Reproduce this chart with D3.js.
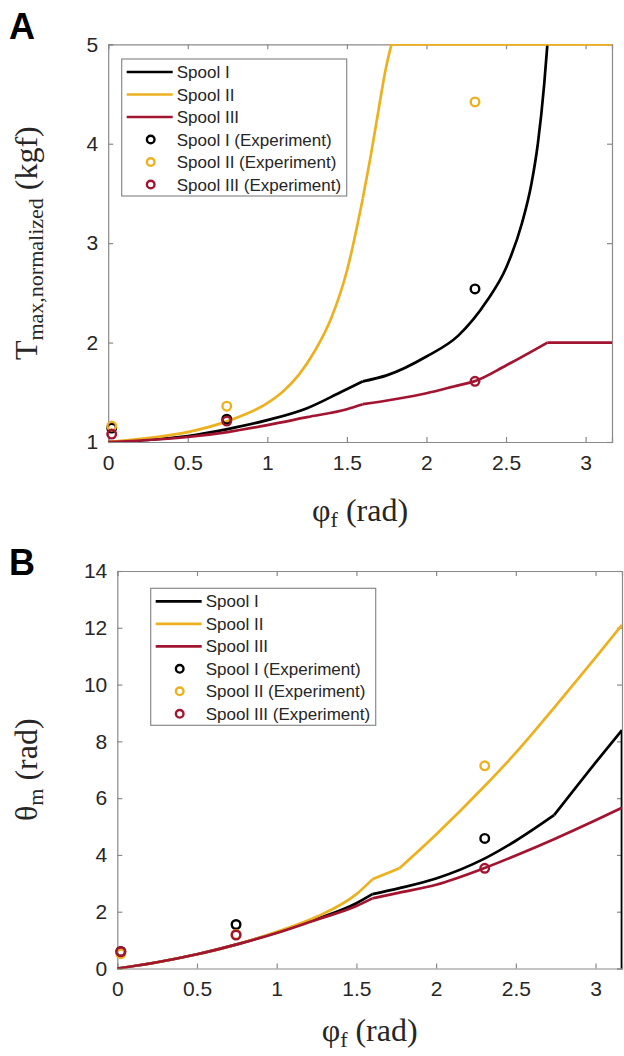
<!doctype html>
<html>
<head>
<meta charset="utf-8">
<script src="https://d3js.org/d3.v7.min.js"></script>
<style>
  body { margin: 0; background: #fff; }
  svg { display: block; }
</style>
</head>
<body>
<svg width="624" height="1056"></svg>
<script>
// ---- data ----
var seriesNames = ["Spool I", "Spool II", "Spool III"];
var seriesColors = ["#000000", "#EDB120", "#A2142F"];
var xTicks = [0, 0.5, 1, 1.5, 2, 2.5, 3];
var yTicksA = [1, 2, 3, 4, 5];
var yTicksB = [0, 2, 4, 6, 8, 10, 12, 14];

// panel A : T max, normalized (kgf)
var phiA1 = [0, 0.25, 0.5, 0.75, 1.0, 1.25, 1.46, 1.6, 1.75, 2.0, 2.2, 2.38, 2.5, 2.6, 2.66, 2.7, 2.74, 2.76];
var tA1   = [1, 1.02, 1.06, 1.13, 1.22, 1.34, 1.5, 1.61, 1.67, 1.86, 2.07, 2.42, 2.75, 3.2, 3.6, 4.0, 4.6, 5.0];
var kinkA1 = [1.6];
var phiA2 = [0, 0.25, 0.5, 0.75, 1.0, 1.1, 1.2, 1.3, 1.4, 1.5, 1.6, 1.65, 1.7, 1.74, 1.78, 3.166];
var tA2   = [1, 1.04, 1.1, 1.21, 1.39, 1.51, 1.68, 1.92, 2.24, 2.72, 3.45, 3.88, 4.35, 4.72, 5.0, 5.0];
var kinkA2 = [1.6, 1.78];
var phiA3 = [0, 0.25, 0.5, 0.75, 1.0, 1.25, 1.5, 1.6, 1.8, 2.0, 2.2, 2.3, 2.5, 2.76, 3.166];
var tA3   = [1, 1.02, 1.05, 1.1, 1.17, 1.25, 1.33, 1.38, 1.43, 1.49, 1.57, 1.61, 1.77, 2.0, 2.0];
var kinkA3 = [1.6, 2.76];

var phiExp = [0.022, 0.745, 2.305];
var tExpA1 = [1.14, 1.23, 2.54];
var tExpA2 = [1.16, 1.36, 4.42];
var tExpA3 = [1.08, 1.21, 1.61];

// panel B : theta m (rad)
var phiB1 = [0, 0.25, 0.5, 0.75, 1.0, 1.25, 1.5, 1.6, 1.77, 2.0, 2.3, 2.5, 2.74, 3.0, 3.166, 3.166];
var thB1  = [0, 0.22, 0.5, 0.85, 1.27, 1.74, 2.3, 2.62, 2.83, 3.17, 3.86, 4.5, 5.4, 7.25, 8.4, 0];
var kinkB1 = [1.6, 2.74, 3.166];
var phiB2 = [0, 0.25, 0.5, 0.75, 1.0, 1.25, 1.5, 1.6, 1.77, 2.0, 2.3, 2.5, 2.75, 3.0, 3.166];
var thB2  = [0, 0.22, 0.5, 0.85, 1.29, 1.82, 2.62, 3.14, 3.53, 4.72, 6.4, 7.6, 9.25, 10.95, 12.1];
var kinkB2 = [1.6, 1.77];
var phiB3 = [0, 0.25, 0.5, 0.75, 1.0, 1.25, 1.5, 1.6, 1.77, 2.0, 2.3, 2.5, 2.75, 3.0, 3.166];
var thB3  = [0, 0.22, 0.5, 0.85, 1.25, 1.72, 2.2, 2.47, 2.67, 2.95, 3.53, 3.98, 4.58, 5.22, 5.66];
var kinkB3 = [1.6];

var thExpB1 = [0.6, 1.55, 4.58];
var thExpB2 = [0.52, 1.2, 7.14];
var thExpB3 = [0.59, 1.18, 3.53];

var svg = d3.select("svg");
svg.append("rect").attr("width", 624).attr("height", 1056).attr("fill", "#fff");

function zip(xs, ys) {
    return xs.map(function(x, i) { return [x, ys[i]]; });
}

// break a series into pieces at its kinks, so each piece is smoothed on its own
function pieces(pts, kinks) {
    var out = [[pts[0]]], used = {};
    for (var i = 1; i < pts.length; i++) {
        out[out.length - 1].push(pts[i]);
        var k = pts[i][0];
        if (kinks.indexOf(k) >= 0 && !used[k] && i < pts.length - 1) {
            used[k] = true;
            out.push([pts[i]]);
        }
    }
    return out;
}

var clipId = 0;
function drawPanel(opt) {
    var x = d3.scaleLinear().domain([0, 3.166]).range([opt.left, opt.right]);
    var y = d3.scaleLinear().domain(opt.yDomain).range([opt.bottom, opt.top]);
    var g = svg.append("g");
    var fmt = function(d) { return String(d); };

    // axes, MATLAB style: inward ticks, box on
    var ax = g.append("g").attr("transform", "translate(0," + opt.bottom + ")")
        .call(d3.axisBottom(x).tickValues(xTicks).tickSize(-5).tickPadding(13).tickFormat(fmt));
    var ay = g.append("g").attr("transform", "translate(" + opt.left + ",0)")
        .call(d3.axisLeft(y).tickValues(opt.yTicks).tickSize(-5).tickPadding(10).tickFormat(fmt));
    g.append("g").attr("transform", "translate(0," + opt.top + ")")
        .call(d3.axisTop(x).tickValues(xTicks).tickSize(-5).tickFormat(""));
    g.append("g").attr("transform", "translate(" + opt.right + ",0)")
        .call(d3.axisRight(y).tickValues(opt.yTicks).tickSize(-5).tickFormat(""));
    g.selectAll(".domain, .tick line").attr("stroke", "#8a8a8a").attr("stroke-width", 1.2);
    g.selectAll(".tick text").attr("fill", "#262626")
        .style("font-family", "'Liberation Sans', Arial, sans-serif").style("font-size", "21px");
    ax.selectAll(".tick text").attr("dy", "0.71em");

    var cid = "clip" + (clipId++);
    g.append("clipPath").attr("id", cid).append("rect")
        .attr("x", opt.left).attr("y", opt.top - 0.4)
        .attr("width", opt.right - opt.left).attr("height", opt.bottom - opt.top + 0.4);

    var smooth = d3.line().x(function(d) { return x(d[0]); }).y(function(d) { return y(d[1]); })
        .curve(d3.curveMonotoneX);
    var straight = d3.line().x(function(d) { return x(d[0]); }).y(function(d) { return y(d[1]); });
    var lines = g.append("g").attr("clip-path", "url(#" + cid + ")");
    opt.lines.forEach(function(s, i) {
        pieces(zip(s[0], s[1]), s[2]).forEach(function(p) {
            var vertical = p.length === 2 && p[0][0] === p[1][0];
            lines.append("path").datum(p)
                .attr("fill", "none").attr("stroke", seriesColors[i])
                .attr("stroke-width", 2.7).attr("stroke-linejoin", "round")
                .attr("d", vertical ? straight : smooth);
        });
    });

    opt.points.forEach(function(vals, i) {
        g.selectAll(null).data(zip(phiExp, vals)).enter().append("circle")
            .attr("cx", function(d) { return x(d[0]); })
            .attr("cy", function(d) { return y(d[1]); })
            .attr("r", 4.3).attr("fill", "none")
            .attr("stroke", seriesColors[i]).attr("stroke-width", 2.4);
    });

    // legend
    var lg = g.append("g").attr("transform", "translate(" + opt.legX + "," + opt.legY + ")");
    lg.append("rect").attr("width", 225).attr("height", 137)
        .attr("fill", "#fff").attr("stroke", "#8a8a8a").attr("stroke-width", 1.2);
    var labels = seriesNames.concat(seriesNames.map(function(n) { return n + " (Experiment)"; }));
    labels.forEach(function(lab, i) {
        var yy = 13 + i * 22.5;
        var c = seriesColors[i % 3];
        if (i < 3) {
            lg.append("line").attr("x1", 5).attr("x2", 51).attr("y1", yy).attr("y2", yy)
                .attr("stroke", c).attr("stroke-width", 2.7);
        } else {
            lg.append("circle").attr("cx", 29).attr("cy", yy).attr("r", 3.8)
                .attr("fill", "none").attr("stroke", c).attr("stroke-width", 2.4);
        }
        lg.append("text").attr("x", 55).attr("y", yy).attr("dy", "0.36em")
            .attr("fill", "#262626")
            .style("font-family", "'Liberation Sans', Arial, sans-serif").style("font-size", "17px")
            .text(lab);
    });

    // axis titles
    var serif = "'Liberation Serif', 'DejaVu Serif', serif";
    var xl = g.append("text").attr("x", (opt.left + opt.right) / 2).attr("y", opt.xLabelY)
        .attr("text-anchor", "middle").attr("fill", "#262626")
        .style("font-family", serif).style("font-size", "32px");
    xl.append("tspan").text("φ");
    xl.append("tspan").attr("baseline-shift", "-28%").style("font-size", "22px").text("f");
    xl.append("tspan").text(" (rad)");

    var yl = g.append("text")
        .attr("transform", "translate(" + opt.yLabelX + "," + ((opt.top + opt.bottom) / 2) + ") rotate(-90)")
        .attr("text-anchor", "middle").attr("fill", "#262626")
        .style("font-family", serif).style("font-size", "32px");
    yl.append("tspan").text(opt.yMain);
    yl.append("tspan").attr("baseline-shift", "-28%").style("font-size", "22px").text(opt.ySub);
    yl.append("tspan").text(" " + opt.yUnit);

    svg.append("text").attr("x", opt.letterX).attr("y", opt.letterY)
        .style("font-family", "'Liberation Sans', Arial, sans-serif").style("font-weight", "bold")
        .style("font-size", "36px").attr("fill", "#000").text(opt.letter);
}

drawPanel({
    left: 108.2, right: 612, top: 44.3, bottom: 442,
    yDomain: [1, 5], yTicks: yTicksA,
    lines: [[phiA1, tA1, kinkA1], [phiA2, tA2, kinkA2], [phiA3, tA3, kinkA3]],
    points: [tExpA1, tExpA2, tExpA3],
    legX: 121.7, legY: 59,
    xLabelY: 521, yLabelX: 37,
    yMain: "T", ySub: "max,normalized", yUnit: "(kgf)",
    letter: "A", letterX: 9, letterY: 39
});

drawPanel({
    left: 117.3, right: 622, top: 571, bottom: 968.5,
    yDomain: [0, 14], yTicks: yTicksB,
    lines: [[phiB1, thB1, kinkB1], [phiB2, thB2, kinkB2], [phiB3, thB3, kinkB3]],
    points: [thExpB1, thExpB2, thExpB3],
    legX: 150.7, legY: 588.3,
    xLabelY: 1041, yLabelX: 37,
    yMain: "θ", ySub: "m", yUnit: "(rad)",
    letter: "B", letterX: 9, letterY: 575
});
</script>
</body>
</html>
